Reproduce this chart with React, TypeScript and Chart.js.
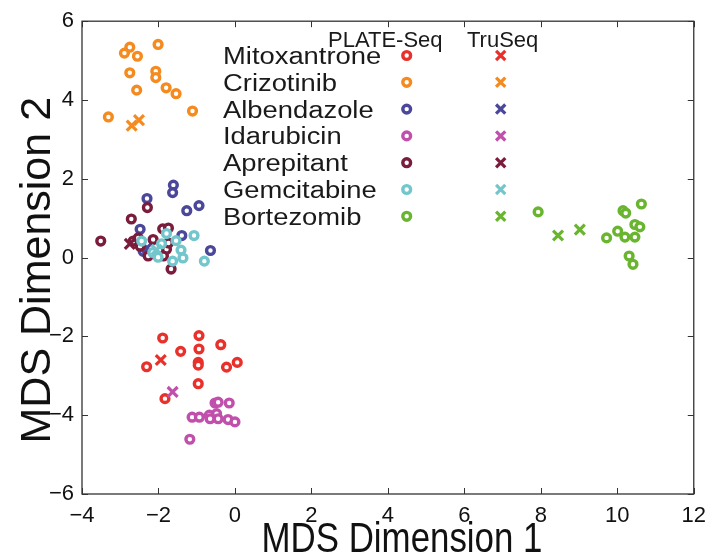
import React, { useEffect, useRef } from 'react';
import { Chart, registerables } from 'chart.js';

Chart.register(...registerables);

// ---- data ----
const drugNames = ['Mitoxantrone', 'Crizotinib', 'Albendazole', 'Idarubicin', 'Aprepitant', 'Gemcitabine', 'Bortezomib'];
const drugColors = ['#e8312a', '#f58a1f', '#4b479a', '#c050ac', '#7b1c3c', '#72c6cc', '#6ab530'];
const methodNames = ['PLATE-Seq', 'TruSeq'];
const xTickValues = [-4, -2, 0, 2, 4, 6, 8, 10, 12];
const yTickValues = [-6, -4, -2, 0, 2, 4, 6];
const xTitle = 'MDS Dimension 1';
const yTitle = 'MDS Dimension 2';

const mitoxantronePlate = [
  [-1.89, -2.04], [-0.94, -1.98], [-0.37, -2.21], [-0.94, -2.32], [-1.42, -2.38], [-0.96, -2.66],
  [-0.96, -2.73], [-0.22, -2.78], [0.06, -2.66], [-2.31, -2.77], [-0.96, -3.2], [-1.83, -3.58],
];
const mitoxantroneTru = [[-1.94, -2.6]];

const crizotinibPlate = [
  [-2.75, 5.34], [-2.89, 5.19], [-2.55, 5.11], [-2.01, 5.41], [-2.75, 4.69], [-2.07, 4.73],
  [-2.07, 4.57], [-2.57, 4.25], [-1.8, 4.31], [-1.54, 4.16], [-1.11, 3.72], [-3.31, 3.57],
];
const crizotinibTru = [[-2.7, 3.35], [-2.51, 3.49]];

const albendazolePlate = [
  [-2.3, 1.5], [-1.61, 1.84], [-1.63, 1.65], [-1.26, 1.19], [-0.94, 1.32], [-2.48, 0.72],
  [-1.39, 0.56], [-0.64, 0.18], [-2.4, 0.16], [-2.27, 0.08],
];
const albendazoleTru = [[-2.3, 0.25]];

const idarubicinPlate = [
  [-1.12, -4.05], [-0.93, -4.05], [-0.67, -4.0], [-0.52, -3.69], [-0.44, -3.67], [-0.48, -3.96],
  [-0.44, -4.09], [-0.15, -3.69], [-0.18, -4.11], [0.0, -4.17], [-1.18, -4.61], [-0.65, -4.09],
];
const idarubicinTru = [[-1.63, -3.41]];

const aprepitantPlate = [
  [-3.51, 0.42], [-2.71, 0.98], [-2.29, 1.27], [-1.89, 0.73], [-1.74, 0.75], [-2.66, 0.42],
  [-2.53, 0.5], [-2.14, 0.46], [-1.83, 0.33], [-1.79, 0.21], [-1.74, 0.37], [-1.87, 0.04],
  [-2.27, 0.04], [-2.48, 0.29], [-1.67, -0.29],
];
const aprepitantTru = [[-2.75, 0.35]];

const gemcitabinePlate = [
  [-2.44, 0.42], [-2.15, 0.13], [-2.01, 0.01], [-1.92, 0.35], [-1.79, 0.61], [-1.54, 0.43],
  [-1.41, 0.19], [-1.36, -0.01], [-1.63, -0.09], [-1.07, 0.56], [-0.8, -0.09],
];
const gemcitabineTru = [[-2.05, 0.2]];

const bortezomibPlate = [
  [7.93, 1.16], [10.15, 1.19], [10.22, 1.13], [10.63, 1.36], [10.46, 0.84], [10.59, 0.78],
  [9.72, 0.5], [10.01, 0.67], [10.2, 0.52], [10.46, 0.52], [10.31, 0.04], [10.41, -0.17],
];
const bortezomibTru = [[8.45, 0.56], [9.02, 0.71]];

const platePoints = [mitoxantronePlate, crizotinibPlate, albendazolePlate, idarubicinPlate, aprepitantPlate, gemcitabinePlate, bortezomibPlate];
const truPoints = [mitoxantroneTru, crizotinibTru, albendazoleTru, idarubicinTru, aprepitantTru, gemcitabineTru, bortezomibTru];

const SANS = '"Liberation Sans", Arial, sans-serif';
const fmt = (v: number | string) => String(v).replace('-', '\u2212');

function drawRing(ctx: CanvasRenderingContext2D, x: number, y: number, color: string) {
  ctx.beginPath();
  ctx.arc(x, y, 3.9, 0, Math.PI * 2);
  ctx.fillStyle = '#fff';
  ctx.fill();
  ctx.lineWidth = 3.4;
  ctx.strokeStyle = color;
  ctx.stroke();
}
function drawX(ctx: CanvasRenderingContext2D, x: number, y: number, color: string) {
  const h = 4.6;
  ctx.beginPath();
  ctx.moveTo(x - h, y - h);
  ctx.lineTo(x + h, y + h);
  ctx.moveTo(x + h, y - h);
  ctx.lineTo(x - h, y + h);
  ctx.lineWidth = 3.2;
  ctx.strokeStyle = color;
  ctx.stroke();
}

const framePlugin = {
  id: 'frame',
  beforeDatasetsDraw(chart: any) {
    const { ctx, chartArea: a, scales } = chart;
    ctx.save();
    ctx.strokeStyle = '#333';
    ctx.lineWidth = 1.3;
    ctx.strokeRect(a.left, a.top, a.right - a.left, a.bottom - a.top);
    ctx.lineWidth = 1;
    const tl = 6;
    ctx.beginPath();
    xTickValues.forEach((v) => {
      const px = Math.round(scales.x.getPixelForValue(v)) + 0.5;
      ctx.moveTo(px, a.bottom); ctx.lineTo(px, a.bottom - tl);
      ctx.moveTo(px, a.top); ctx.lineTo(px, a.top + tl);
    });
    yTickValues.forEach((v) => {
      const py = Math.round(scales.y.getPixelForValue(v)) + 0.5;
      ctx.moveTo(a.left, py); ctx.lineTo(a.left + tl, py);
      ctx.moveTo(a.right, py); ctx.lineTo(a.right - tl, py);
    });
    ctx.stroke();
    ctx.restore();
  },
  afterDraw(chart: any) {
    const { ctx, chartArea: a } = chart;
    const L = a.left, T = a.top, B = a.bottom;
    ctx.save();
    ctx.fillStyle = '#111';
    ctx.textBaseline = 'alphabetic';
    ctx.textAlign = 'center';
    // axis titles
    ctx.save();
    ctx.translate(L + 320, B + 58);
    ctx.scale(0.83, 1);
    ctx.font = `42px ${SANS}`;
    ctx.fillText(xTitle, 0, 0);
    ctx.restore();
    ctx.save();
    ctx.translate(L - 32, T + 249);
    ctx.rotate(-Math.PI / 2);
    ctx.font = `43px ${SANS}`;
    ctx.fillText(yTitle, 0, 0);
    ctx.restore();
    // legend
    ctx.textAlign = 'left';
    ctx.fillStyle = '#1a1a1a';
    ctx.font = `22px ${SANS}`;
    ctx.fillText(methodNames[0], L + 246, T + 26);
    ctx.fillText(methodNames[1], L + 385, T + 26);
    drugNames.forEach((name, i) => {
      const base = T + 42.7 + i * 26.8;
      ctx.save();
      ctx.translate(L + 141, base);
      ctx.scale(1.19, 1);
      ctx.font = `23px ${SANS}`;
      ctx.fillStyle = '#1a1a1a';
      ctx.fillText(name, 0, 0);
      ctx.restore();
      drawRing(ctx, L + 324.7, base - 8.4, drugColors[i]);
      drawX(ctx, L + 418.7, base - 8.4, drugColors[i]);
    });
    ctx.restore();
  },
};

export default function App() {
  const ref = useRef<HTMLCanvasElement>(null);
  useEffect(() => {
    const canvas = ref.current!;
    const datasets: any[] = [];
    drugNames.forEach((name, i) => {
      datasets.push({
        label: `${name} ${methodNames[0]}`,
        data: platePoints[i].map(([x, y]) => ({ x, y })),
        pointStyle: 'circle',
        pointRadius: 3.9,
        pointHoverRadius: 3.9,
        pointBorderWidth: 3.4,
        borderColor: drugColors[i],
        backgroundColor: '#ffffff',
        order: 100 - 2 * i,
      });
      datasets.push({
        label: `${name} ${methodNames[1]}`,
        data: truPoints[i].map(([x, y]) => ({ x, y })),
        pointStyle: 'crossRot',
        pointRadius: 7,
        pointHoverRadius: 7,
        pointBorderWidth: 3.2,
        borderColor: drugColors[i],
        backgroundColor: drugColors[i],
        order: 99 - 2 * i,
      });
    });
    const chart = new Chart(canvas, {
      type: 'scatter',
      data: { datasets },
      plugins: [framePlugin],
      options: {
        responsive: false,
        animation: false,
        events: [],
        layout: { padding: { top: 19, right: 21, left: 0, bottom: 0 } },
        plugins: { legend: { display: false }, tooltip: { enabled: false } },
        scales: {
          x: {
            type: 'linear',
            min: -4,
            max: 12,
            afterBuildTicks: (s: any) => { s.ticks = xTickValues.map((v) => ({ value: v })); },
            afterFit: (s: any) => { s.height = 60; },
            grid: { display: false, drawTicks: false },
            border: { display: false },
            ticks: { color: '#111', padding: 9, maxRotation: 0, autoSkip: false, font: { family: SANS, size: 22 }, callback: (v: any) => fmt(v) },
            title: { display: false, text: xTitle },
          },
          y: {
            type: 'linear',
            min: -6,
            max: 6,
            afterBuildTicks: (s: any) => { s.ticks = yTickValues.map((v) => ({ value: v })); },
            afterFit: (s: any) => { s.width = 82; },
            grid: { display: false, drawTicks: false },
            border: { display: false },
            ticks: { color: '#111', padding: 8, autoSkip: false, font: { family: SANS, size: 22 }, callback: (v: any) => fmt(v) },
            title: { display: false, text: yTitle },
          },
        },
      },
    });
    return () => chart.destroy();
  }, []);
  return (
    <div style={{ position: 'fixed', left: 0, top: 0, width: 715, height: 554, background: '#fff' }}>
      <canvas ref={ref} width={715} height={554} style={{ display: 'block' }} />
    </div>
  );
}
